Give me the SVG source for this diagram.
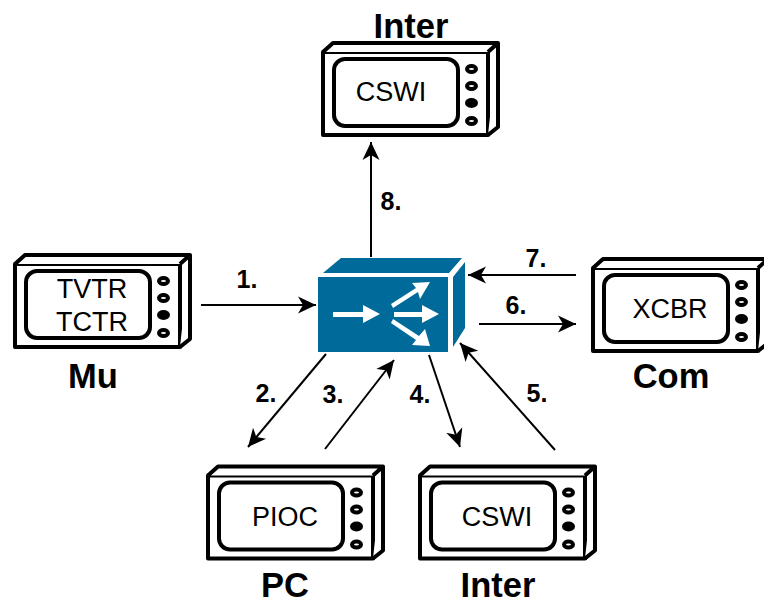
<svg xmlns="http://www.w3.org/2000/svg" width="764" height="601" viewBox="0 0 764 601">
<style>
.l{fill:#000;font-family:"Liberation Sans",Arial,sans-serif}
.t{font-size:34.5px;font-weight:700;text-anchor:middle}
.n{font-size:25px;font-weight:700;text-anchor:middle}
.s{font-size:27px;text-anchor:middle}
.c{fill:none;stroke:#000;stroke-width:2;marker-end:url(#a)}
.d{fill:#fff;stroke:#000;stroke-width:4;stroke-linejoin:round}
.o{fill:#fff;stroke:#000;stroke-width:4}
</style>
<defs>
<marker id="a" markerUnits="userSpaceOnUse" markerWidth="20" markerHeight="20" refX="18" refY="10" orient="auto"><path d="M0 1.5L18 10L0 18.5L5 10Z" fill="#000"/></marker>
<g id="dev">
<path class="d" d="M0 0H165V83H0Z"/>
<path class="d" d="M0 0L10 -9H175L165 0M175 -9V75L165 83"/>
<rect class="d" x="11" y="7" width="124" height="67" rx="11"/>
<ellipse class="o" cx="148.500" cy="17" rx="4.500" ry="3"/>
<ellipse class="o" cx="148.500" cy="34" rx="4.500" ry="3"/>
<ellipse cx="148.500" cy="51" rx="6.500" ry="5" fill="#000"/>
<ellipse class="o" cx="148.500" cy="69" rx="4.500" ry="3"/>
</g>
</defs>
<rect width="764" height="601" fill="#fff"/>
<g id="connectors">
<path class="c" d="M371 257V142"/>
<path class="c" d="M201 305H316"/>
<path class="c" d="M326 354L248 447"/>
<path class="c" d="M325 449L394 360"/>
<path class="c" d="M429 355L460 447"/>
<path class="c" d="M555 450L460 343"/>
<path class="c" d="M479 324H576"/>
<path class="c" d="M576 275H468"/>
</g>
<g id="labels" class="l">
<text class="n" x="391" y="210">8.</text>
<text class="n" x="247" y="288">1.</text>
<text class="n" x="266" y="402">2.</text>
<text class="n" x="333" y="403">3.</text>
<text class="n" x="420" y="403">4.</text>
<text class="n" x="537" y="402">5.</text>
<text class="n" x="516" y="314">6.</text>
<text class="n" x="536" y="267">7.</text>
</g>
<g id="switch">
<path d="M323 273L341 258H462L449 273Z" fill="#006a9a"/>
<path d="M318 277H448V352H318Z" fill="#006a9a"/>
<path d="M453 277L465 262V328L453 347Z" fill="#006a9a"/>
<g fill="#fff">
<path d="M333 312H363V305L380 314L363 323V317H333Z"/>
<path d="M394 312H422V305L439 314L422 323V317H394Z"/>
<path d="M391 304L416 288L412 283L430 282L420 299L418 292L393 308Z"/>
<path d="M393 319L419 336L425 329L430 346L412 345L416 340L391 323Z"/>
</g>
</g>
<g id="inter-top" class="l">
<use href="#dev" x="323" y="52"/>
<text class="t" x="411" y="38">Inter</text>
<text class="s" x="391" y="101">CSWI</text>
</g>
<g id="mu" class="l">
<use href="#dev" x="15" y="264"/>
<text class="s" x="92" y="298">TVTR</text>
<text class="s" x="92" y="331">TCTR</text>
<text class="t" x="93" y="388">Mu</text>
</g>
<g id="com" class="l">
<use href="#dev" x="593" y="268"/>
<text class="s" x="670" y="318">XCBR</text>
<text class="t" x="671" y="388">Com</text>
</g>
<g id="pc" class="l">
<use href="#dev" x="208" y="475.500"/>
<text class="s" x="285" y="526">PIOC</text>
<text class="t" x="285" y="597">PC</text>
</g>
<g id="inter-bottom" class="l">
<use href="#dev" x="420" y="475.500"/>
<text class="s" x="497" y="526">CSWI</text>
<text class="t" x="498" y="597">Inter</text>
</g>
</svg>
